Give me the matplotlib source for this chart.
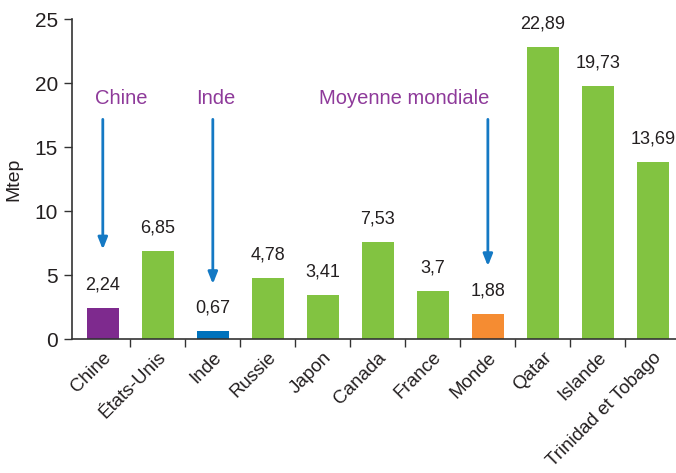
import matplotlib
matplotlib.use("Agg")
import matplotlib.pyplot as plt
from matplotlib.ticker import FixedLocator

plt.rcParams['font.family'] = ['Liberation Sans', 'DejaVu Sans']

categories = ["Chine", "États-Unis", "Inde", "Russie", "Japon", "Canada",
              "France", "Monde", "Qatar", "Islande", "Trinidad et Tobago"]
heights = [2.45, 6.9, 0.67, 4.78, 3.45, 7.6, 3.8, 1.98, 22.87, 19.8, 13.85]
value_labels = ["2,24", "6,85", "0,67", "4,78", "3,41", "7,53", "3,7",
                "1,88", "22,89", "19,73", "13,69"]
colors = ["#7E2A8E", "#82C341", "#0072BC", "#82C341", "#82C341", "#82C341",
          "#82C341", "#F58C32", "#82C341", "#82C341", "#82C341"]
yticks = [0, 5, 10, 15, 20, 25]

# annotations: (text, text x, text y, arrow x, arrow y start, arrow y end)
notes = [("Chine", 0.34, 18.85, 0.0, 17.4, 6.8),
         ("Inde", 2.05, 18.85, 2.0, 17.4, 4.1),
         ("Moyenne mondiale", 5.47, 18.85, 7.0, 17.4, 5.5)]

fig = plt.figure(figsize=(6.76, 4.73), dpi=100)
ax = fig.add_axes([0.1065, 0.2827, 0.8935, 0.6765])

x = list(range(len(categories)))
ax.bar(x, heights, width=0.575, color=colors, zorder=2)

for xi, h, lab in zip(x, heights, value_labels):
    ax.annotate(lab, (xi, h), xytext=(0, 16.5), textcoords="offset points",
                ha="center", va="center", fontsize=13, color="#231F20")

ax.set_xlim(-0.56, 10.42)
ax.set_ylim(0, 25)
ax.set_yticks(yticks)
ax.set_yticklabels([str(t) for t in yticks], fontsize=15, color="#231F20")
ax.set_ylabel("Mtep", fontsize=14, color="#231F20", labelpad=9)

ax.set_xticks(x)
ax.set_xticklabels(categories, rotation=45, ha="right", rotation_mode="anchor",
                   fontsize=13.5, color="#231F20")
ax.tick_params(axis="x", which="major", length=0, pad=7)
ax.xaxis.set_minor_locator(FixedLocator([i + 0.5 for i in range(len(categories) - 1)]))
ax.tick_params(axis="x", which="minor", length=6, width=1, color="#333333", direction="out")
ax.tick_params(axis="y", length=6, width=1, color="#333333", direction="out", pad=4)

for s in ["top", "right"]:
    ax.spines[s].set_visible(False)
for s in ["left", "bottom"]:
    ax.spines[s].set_color("#333333")
    ax.spines[s].set_linewidth(1.2)

for txt, tx, ty, axx, y0, y1 in notes:
    ax.text(tx, ty, txt, ha="center", va="center", fontsize=14.5, color="#8E3A9A")
    ax.annotate("", xy=(axx, y1), xytext=(axx, y0),
                arrowprops=dict(arrowstyle="-|>,head_length=0.7,head_width=0.28",
                                color="#1479C4", lw=2))

fig.savefig("out.png", dpi=100)
